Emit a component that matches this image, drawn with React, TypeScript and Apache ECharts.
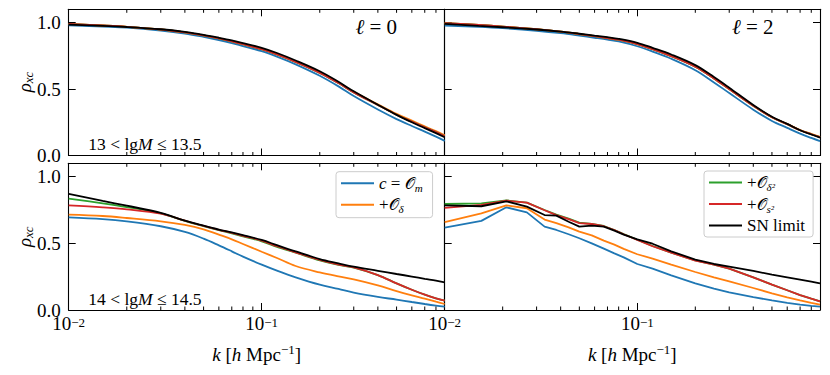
import React, { useEffect, useRef } from "react";
import * as echarts from "echarts";

// ---------- data ----------
const kSmooth = [0.01, 0.015, 0.02, 0.03, 0.04, 0.05, 0.06, 0.07, 0.08, 0.1, 0.12, 0.15, 0.2, 0.25, 0.3, 0.4, 0.5, 0.6, 0.7, 0.8, 0.888];
const kBinned = [0.01, 0.0155, 0.0209, 0.0267, 0.033, 0.038, 0.044, 0.05, 0.058, 0.067, 0.076, 0.085, 0.1, 0.12, 0.15, 0.2, 0.25, 0.3, 0.4, 0.5, 0.6, 0.7, 0.8, 0.888];
const minorTicksK = [0.02, 0.03, 0.04, 0.05, 0.06, 0.07, 0.08, 0.09, 0.2, 0.3, 0.4, 0.5, 0.6, 0.7, 0.8];

const seriesNames = ["c = 𝒪_m", "+𝒪_δ", "+𝒪_δ²", "+𝒪_s²", "SN limit"];
const seriesColors = ["#1f77b4", "#ff7f0e", "#2ca02c", "#d62728", "#000000"];

// top-left: l = 0, 13 < lgM <= 13.5
const tlBlue = [0.98, 0.97, 0.962, 0.94, 0.918, 0.893, 0.869, 0.846, 0.823, 0.785, 0.744, 0.686, 0.6, 0.52, 0.447, 0.346, 0.274, 0.222, 0.18, 0.142, 0.11];
const tlOrange = [0.99, 0.978, 0.968, 0.948, 0.926, 0.903, 0.881, 0.859, 0.838, 0.8, 0.761, 0.705, 0.624, 0.548, 0.479, 0.385, 0.313, 0.262, 0.219, 0.183, 0.152];
const tlGreen = [0.99, 0.978, 0.968, 0.948, 0.926, 0.903, 0.881, 0.859, 0.838, 0.8, 0.761, 0.705, 0.622, 0.545, 0.475, 0.38, 0.307, 0.255, 0.212, 0.176, 0.145];
const tlRed = [0.99, 0.978, 0.968, 0.948, 0.926, 0.903, 0.881, 0.859, 0.838, 0.8, 0.761, 0.705, 0.622, 0.545, 0.475, 0.38, 0.307, 0.255, 0.212, 0.176, 0.145];
const tlBlack = [0.985, 0.975, 0.967, 0.95, 0.93, 0.908, 0.886, 0.866, 0.846, 0.81, 0.771, 0.715, 0.634, 0.555, 0.483, 0.382, 0.306, 0.25, 0.206, 0.168, 0.137];

// top-right: l = 2
const trBlue = [0.978, 0.968, 0.958, 0.938, 0.92, 0.902, 0.886, 0.872, 0.858, 0.822, 0.782, 0.728, 0.642, 0.55, 0.47, 0.345, 0.26, 0.208, 0.165, 0.132, 0.108];
const trOrange = [0.995, 0.982, 0.97, 0.95, 0.932, 0.914, 0.898, 0.884, 0.871, 0.838, 0.8, 0.748, 0.668, 0.58, 0.5, 0.374, 0.288, 0.237, 0.192, 0.163, 0.141];
const trGreen = [0.995, 0.982, 0.97, 0.95, 0.932, 0.914, 0.898, 0.884, 0.871, 0.838, 0.8, 0.748, 0.668, 0.58, 0.5, 0.374, 0.288, 0.236, 0.19, 0.16, 0.138];
const trRed = [0.995, 0.982, 0.97, 0.95, 0.932, 0.914, 0.898, 0.884, 0.871, 0.838, 0.8, 0.748, 0.668, 0.58, 0.5, 0.374, 0.288, 0.236, 0.19, 0.16, 0.138];
const trBlack = [0.99, 0.975, 0.965, 0.948, 0.932, 0.916, 0.902, 0.89, 0.878, 0.848, 0.81, 0.76, 0.68, 0.59, 0.51, 0.38, 0.292, 0.238, 0.19, 0.158, 0.135];

// bottom-left: l = 0, 14 < lgM <= 14.5
const blBlue = [0.695, 0.682, 0.665, 0.628, 0.585, 0.535, 0.485, 0.44, 0.4, 0.34, 0.295, 0.245, 0.19, 0.158, 0.13, 0.098, 0.078, 0.06, 0.045, 0.033, 0.025];
const blOrange = [0.715, 0.705, 0.69, 0.665, 0.638, 0.605, 0.565, 0.53, 0.495, 0.437, 0.39, 0.33, 0.282, 0.252, 0.23, 0.185, 0.142, 0.11, 0.085, 0.062, 0.045];
const blGreen = [0.835, 0.8, 0.772, 0.725, 0.668, 0.628, 0.598, 0.575, 0.552, 0.515, 0.474, 0.43, 0.372, 0.338, 0.318, 0.262, 0.2, 0.152, 0.115, 0.088, 0.07];
const blRed = [0.785, 0.77, 0.755, 0.722, 0.67, 0.63, 0.6, 0.578, 0.556, 0.52, 0.478, 0.432, 0.375, 0.34, 0.32, 0.262, 0.2, 0.152, 0.115, 0.088, 0.07];
const blBlack = [0.87, 0.818, 0.782, 0.728, 0.67, 0.632, 0.603, 0.582, 0.562, 0.525, 0.486, 0.439, 0.382, 0.35, 0.325, 0.294, 0.27, 0.251, 0.234, 0.22, 0.207];

// bottom-right: l = 2
const brBlue = [0.618, 0.668, 0.77, 0.732, 0.625, 0.6, 0.568, 0.538, 0.5, 0.46, 0.425, 0.395, 0.345, 0.31, 0.26, 0.2, 0.16, 0.132, 0.097, 0.072, 0.054, 0.041, 0.031, 0.025];
const brOrange = [0.658, 0.725, 0.785, 0.763, 0.678, 0.652, 0.62, 0.588, 0.56, 0.52, 0.49, 0.458, 0.418, 0.385, 0.34, 0.285, 0.245, 0.215, 0.165, 0.125, 0.095, 0.072, 0.053, 0.04];
const brGreen = [0.795, 0.8, 0.822, 0.805, 0.75, 0.715, 0.685, 0.655, 0.645, 0.63, 0.6, 0.57, 0.527, 0.48, 0.43, 0.372, 0.34, 0.31, 0.245, 0.19, 0.148, 0.112, 0.085, 0.065];
const brRed = [0.765, 0.788, 0.82, 0.805, 0.748, 0.712, 0.682, 0.652, 0.645, 0.628, 0.6, 0.568, 0.525, 0.478, 0.43, 0.37, 0.34, 0.31, 0.245, 0.19, 0.148, 0.112, 0.085, 0.065];
const brBlack = [0.785, 0.778, 0.815, 0.775, 0.712, 0.708, 0.662, 0.625, 0.633, 0.625, 0.595, 0.565, 0.53, 0.497, 0.44, 0.378, 0.345, 0.325, 0.293, 0.265, 0.245, 0.228, 0.213, 0.2];

const panels = [
  { k: kSmooth, vals: [tlBlue, tlOrange, tlGreen, tlRed, tlBlack], smooth: true },
  { k: kSmooth, vals: [trBlue, trOrange, trGreen, trRed, trBlack], smooth: true },
  { k: kSmooth, vals: [blBlue, blOrange, blGreen, blRed, blBlack], smooth: true },
  { k: kBinned, vals: [brBlue, brOrange, brGreen, brRed, brBlack], smooth: false },
];

const K_MIN = 0.01;
const K_MAX = 0.888;
const Y_MIN = 0;
const Y_MAX = 1.1;

// ---------- styling ----------
const FONT = '"Liberation Serif", "DejaVu Serif", serif';
const MATHFONT = '"DejaVu Serif", "DejaVu Sans", "Noto Sans", serif';

const rich: any = {
  n: { fontFamily: FONT, fontSize: 19, color: "#000", lineHeight: 22 },
  i: { fontFamily: FONT, fontSize: 19, fontStyle: "italic", color: "#000", lineHeight: 22 },
  sup: { fontFamily: FONT, fontSize: 13, color: "#000", verticalAlign: "top", lineHeight: 13 },
  sub: { fontFamily: FONT, fontSize: 13, fontStyle: "italic", color: "#000", verticalAlign: "bottom", lineHeight: 13 },
  ln: { fontFamily: FONT, fontSize: 17, color: "#000", lineHeight: 20 },
  li: { fontFamily: FONT, fontSize: 17, fontStyle: "italic", color: "#000", lineHeight: 20 },
  lo: { fontFamily: MATHFONT, fontSize: 16, color: "#000", lineHeight: 20 },
  ls: { fontFamily: FONT, fontSize: 11, fontStyle: "italic", color: "#000", verticalAlign: "bottom", lineHeight: 11 },
  an: { fontFamily: FONT, fontSize: 17.5, color: "#000", lineHeight: 18 },
  ai: { fontFamily: FONT, fontSize: 17.5, fontStyle: "italic", color: "#000", lineHeight: 18 },
  big: { fontFamily: FONT, fontSize: 21, color: "#000", lineHeight: 24 },
  bigi: { fontFamily: FONT, fontSize: 21, fontStyle: "italic", color: "#000", lineHeight: 24 },
};

const tickRich: any = {
  n: { fontFamily: FONT, fontSize: 19, color: "#000", lineHeight: 14 },
  sup: { fontFamily: FONT, fontSize: 13, color: "#000", verticalAlign: "top", lineHeight: 8 },
};

const legendRich: Record<string, string> = {
  "c = 𝒪_m": "{li|c}{ln| = }{lo|𝒪}{ls|m}",
  "+𝒪_δ": "{ln|+}{lo|𝒪}{ls|δ}",
  "+𝒪_δ²": "{ln|+}{lo|𝒪}{ls|δ²}",
  "+𝒪_s²": "{ln|+}{lo|𝒪}{ls|s²}",
  "SN limit": "{ln|SN limit}",
};

const grids = [
  { left: 68.7, top: 9.3, width: 376, height: 146.2 },
  { left: 444.7, top: 9.3, width: 375.3, height: 146.2 },
  { left: 68.7, top: 163.3, width: 376, height: 146.7 },
  { left: 444.7, top: 163.3, width: 375.3, height: 146.7 },
];

function buildOption() {
  const xAxis: any[] = [];
  const yAxis: any[] = [];
  const series: any[] = [];
  grids.forEach((_, g) => {
    const isBottom = g >= 2;
    const isRight = g % 2 === 1;
    const baseX = {
      type: "log",
      logBase: 10,
      gridIndex: g,
      min: K_MIN,
      max: K_MAX,
      axisLine: { show: true, onZero: false, lineStyle: { color: "#000", width: 1.1 } },
      axisTick: { show: true, inside: true, length: 7, lineStyle: { color: "#000", width: 1 } },
      splitLine: { show: false },
      minorTick: { show: false },
    };
    xAxis.push({
      ...baseX,
      position: "bottom",
      axisLabel: {
        show: isBottom,
        showMaxLabel: false,
        margin: 6,
        formatter: (v: number) => `{n|10}{sup|−${-Math.round(Math.log10(v))}}`,
        rich: tickRich,
      },
    });
    xAxis.push({ ...baseX, position: "top", axisLabel: { show: false } });
    const baseY = {
      type: "value",
      gridIndex: g,
      min: Y_MIN,
      max: Y_MAX,
      interval: 0.5,
      axisLine: { show: true, onZero: false, lineStyle: { color: "#000", width: 1.1 } },
      splitLine: { show: false },
    };
    yAxis.push({
      ...baseY,
      position: "left",
      axisTick: { show: true, inside: true, length: 7, lineStyle: { color: "#000", width: 1 } },
      axisLabel: {
        show: !isRight,
        showMaxLabel: false,
        margin: 8,
        fontFamily: FONT,
        fontSize: 19,
        lineHeight: 12,
        color: "#000",
        formatter: (v: number) => v.toFixed(1),
      },
    });
    yAxis.push({
      ...baseY,
      position: "right",
      axisTick: { show: isRight, inside: true, length: 7, lineStyle: { color: "#000", width: 1 } },
      axisLabel: { show: false },
    });

    const p = panels[g];
    p.vals.forEach((vals, si) => {
      series.push({
        type: "line",
        name: seriesNames[si],
        xAxisIndex: 2 * g,
        yAxisIndex: 2 * g,
        data: p.k.map((k, i) => [k, vals[i]]),
        symbol: "none",
        smooth: p.smooth ? 0.35 : false,
        lineStyle: { color: seriesColors[si], width: 1.8 },
        itemStyle: { color: seriesColors[si] },
        z: 2 + si,
      });
    });
    // minor x ticks (log decades 2..9) on bottom & top spines
    series.push({
      type: "custom",
      xAxisIndex: 2 * g,
      yAxisIndex: 2 * g,
      silent: true,
      clip: false,
      data: minorTicksK.filter((k) => k <= K_MAX).map((k) => [k, Y_MIN]),
      encode: { x: 0, y: 1 },
      renderItem: (_params: any, api: any) => {
        const k = api.value(0);
        const b = api.coord([k, Y_MIN]);
        const t = api.coord([k, Y_MAX]);
        return {
          type: "group",
          children: [
            { type: "line", shape: { x1: b[0], y1: b[1], x2: b[0], y2: b[1] - 3.5 }, style: { stroke: "#000", lineWidth: 1 } },
            { type: "line", shape: { x1: t[0], y1: t[1], x2: t[0], y2: t[1] + 3.5 }, style: { stroke: "#000", lineWidth: 1 } },
          ],
        };
      },
      z: 10,
    });
  });

  const legendBase = {
    orient: "vertical",
    icon: "rect",
    itemWidth: 33,
    itemHeight: 2,
    itemGap: 3,
    backgroundColor: "rgba(255,255,255,0.8)",
    borderColor: "#cccccc",
    borderWidth: 1,
    borderRadius: 3,
    selectedMode: false,
    formatter: (name: string) => legendRich[name] || name,
    textStyle: { rich, fontFamily: FONT, fontSize: 17, color: "#000", padding: [0, 0, 0, 0] },
  };

  const graphic: any[] = [
    { type: "text", x: 397, y: 26.5, style: { text: "{bigi|ℓ}{big| = 0}", rich, align: "right", verticalAlign: "middle" } },
    { type: "text", x: 773.5, y: 26.5, style: { text: "{bigi|ℓ}{big| = 2}", rich, align: "right", verticalAlign: "middle" } },
    { type: "text", x: 88.3, y: 144, style: { text: "{an|13 < lg}{ai|M}{an| ≤ 13.5}", rich, align: "left", verticalAlign: "middle" } },
    { type: "text", x: 88.3, y: 299, style: { text: "{an|14 < lg}{ai|M}{an| ≤ 14.5}", rich, align: "left", verticalAlign: "middle" } },
    { type: "text", x: 24, y: 82, rotation: Math.PI / 2, style: { text: "{i|ρ}{sub|xc}", rich, align: "center", verticalAlign: "middle" } },
    { type: "text", x: 24, y: 236.7, rotation: Math.PI / 2, style: { text: "{i|ρ}{sub|xc}", rich, align: "center", verticalAlign: "middle" } },
    { type: "text", x: 256.7, y: 354, style: { text: "{i|k}{n| [}{i|h}{n| Mpc}{sup|−1}{n|]}", rich, align: "center", verticalAlign: "middle" } },
    { type: "text", x: 632.3, y: 354, style: { text: "{i|k}{n| [}{i|h}{n| Mpc}{sup|−1}{n|]}", rich, align: "center", verticalAlign: "middle" } },
  ];

  return {
    animation: false,
    backgroundColor: "#ffffff",
    grid: grids.map((g) => ({ ...g, containLabel: false })),
    xAxis,
    yAxis,
    series,
    legend: [
      { ...legendBase, data: seriesNames.slice(0, 2), left: 336, top: 171.7, padding: [3, 10, 3, 5] },
      { ...legendBase, data: seriesNames.slice(2), left: 704, top: 171, padding: [3, 8, 3, 5] },
    ],
    graphic,
  };
}

export default function App() {
  const ref = useRef<HTMLDivElement>(null);
  useEffect(() => {
    if (!ref.current) return;
    const chart = echarts.init(ref.current, undefined, { renderer: "svg" });
    chart.setOption(buildOption() as any);
    return () => chart.dispose();
  }, []);
  return <div ref={ref} style={{ position: "absolute", left: 0, top: 0, width: 830, height: 375 }} />;
}
